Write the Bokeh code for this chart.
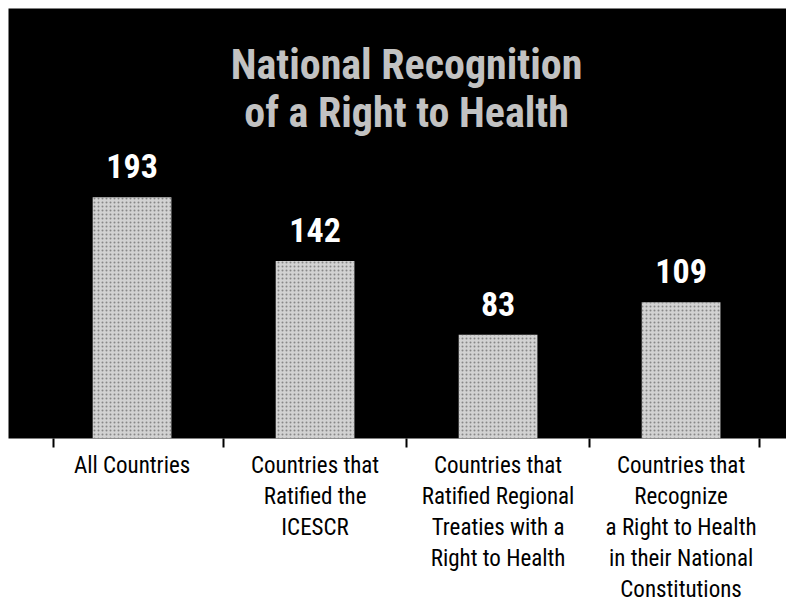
from bokeh.plotting import figure
from bokeh.models import ColumnDataSource, FixedTicker, LinearAxis, Range1d
from bokeh.core.properties import value
from bokeh.embed import file_html
from bokeh.resources import INLINE

# ---- data ----
categories = [
    "All Countries",
    "Countries that\nRatified the\nICESCR",
    "Countries that\nRatified Regional\nTreaties with a\nRight to Health",
    "Countries that\nRecognize\na Right to Health\nin their National\nConstitutions",
]
counts = [193, 142, 83, 109]
count_labels = [str(v) for v in counts]
title_lines = ["National Recognition", "of a Right to Health"]

# ---- layout helpers ----
positions = [i + 0.5 for i in range(len(categories))]
boundary_ticks = [0.07, 1, 2, 3, 3.93]
title_y = [299, 261]
title_x = [len(categories) / 2] * len(title_lines)

FONT = "Roboto Condensed"

src = ColumnDataSource(dict(x=positions, top=counts, lbl=count_labels))

p = figure(
    frame_width=778, frame_height=430,
    x_range=Range1d(-0.175, 4.076), y_range=Range1d(0, 344),
    output_backend="svg", toolbar_location=None,
    x_axis_type=None, y_axis_type=None,
    min_border_left=8, min_border_top=8, min_border_right=0, min_border_bottom=0,
)
p.background_fill_color = "black"
p.border_fill_color = "white"
p.outline_line_color = None
p.xgrid.visible = False
p.ygrid.visible = False

p.vbar(x="x", top="top", width=0.43, source=src,
       fill_color="#d2d2d2", line_color=None,
       hatch_pattern="dot", hatch_color="#555555", hatch_alpha=0.6, hatch_scale=4)

p.text(x="x", y="top", text="lbl", source=src, y_offset=-31,
       text_align="center", text_baseline="alphabetic",
       text_font=value(FONT), text_font_style="bold",
       text_font_size="34px", text_color="white")

p.text(x=title_x, y=title_y, text=title_lines,
       text_align="center", text_baseline="alphabetic",
       text_font=value(FONT), text_font_style="bold",
       text_font_size="42px", text_color="#c2c2c2")

label_axis = LinearAxis(
    ticker=FixedTicker(ticks=positions, minor_ticks=boundary_ticks),
    major_label_overrides={pos: cat for pos, cat in zip(positions, categories)},
    major_tick_in=0, major_tick_out=0, major_tick_line_color=None,
    minor_tick_in=0, minor_tick_out=9, minor_tick_line_color="black",
    minor_tick_line_width=2,
    axis_line_color=None,
    major_label_standoff=4,
    major_label_text_font=FONT, major_label_text_font_size="23px",
    major_label_text_line_height=1.15,
    major_label_text_color="black",
)
p.add_layout(label_axis, "below")

open("out.html", "w").write(file_html(p, INLINE))
